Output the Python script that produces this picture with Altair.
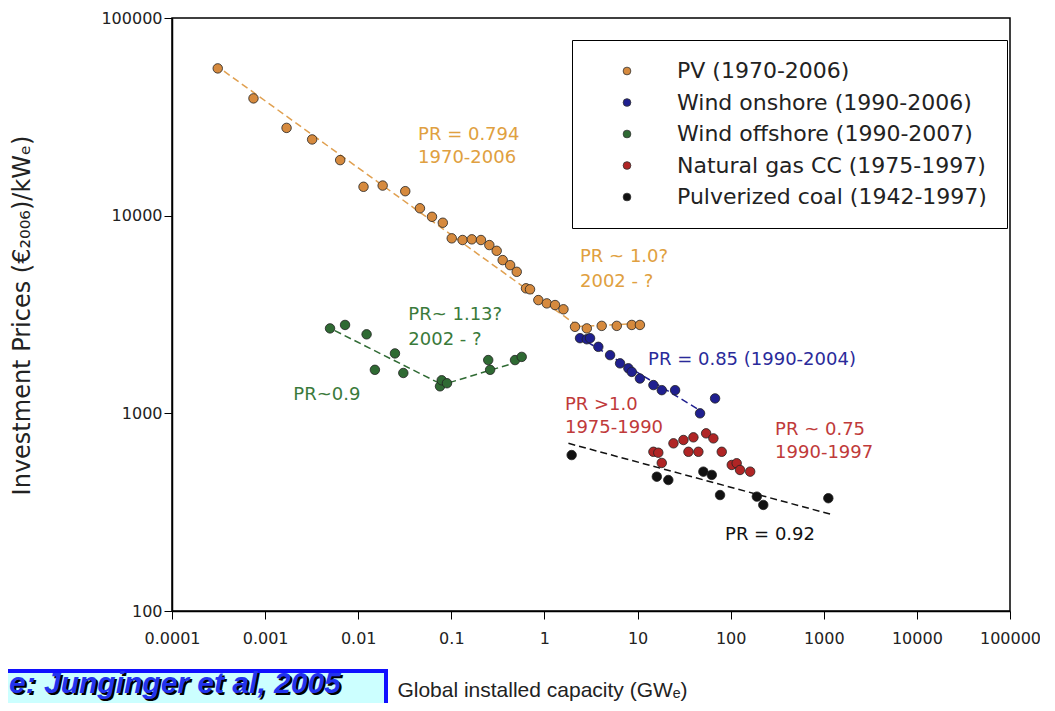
import altair as alt
import pandas as pd

SERIES = ["PV (1970-2006)", "Wind onshore (1990-2006)", "Wind offshore (1990-2007)",
          "Natural gas CC (1975-1997)", "Pulverized coal (1942-1997)"]
FILL_COLORS = ["#d68a3e", "#1f1f8f", "#2f6a33", "#b02525", "#111111"]

pv_x = [0.00031, 0.00075, 0.0017, 0.0032, 0.0064, 0.0114, 0.0183, 0.032, 0.046, 0.062,
        0.081, 0.101, 0.132, 0.166, 0.208, 0.256, 0.307, 0.356, 0.428, 0.504,
        0.634, 0.70, 0.86, 1.06, 1.30, 1.60, 2.13, 2.85, 4.12, 5.98, 8.67, 10.6]
pv_y = [55600, 39200, 27800, 24300, 19100, 14000, 14200, 13300, 10900, 9870,
        9210, 7680, 7530, 7590, 7530, 7100, 6640, 5960, 5620, 5200,
        4290, 4240, 3740, 3600, 3530, 3360, 2740, 2690, 2770, 2770, 2800, 2800]

won_x = [2.41, 2.85, 3.09, 3.79, 5.07, 6.49, 7.97, 8.67, 10.6, 14.8, 18.2, 25.3, 46.9, 68.0]
won_y = [2400, 2370, 2400, 2170, 1970, 1790, 1690, 1620, 1500, 1390, 1310, 1310, 1000, 1190]

wof_x = [0.00498, 0.00722, 0.0123, 0.0151, 0.0248, 0.0305, 0.0756, 0.0788, 0.0898,
         0.249, 0.261, 0.483, 0.570]
wof_y = [2690, 2800, 2510, 1660, 2010, 1600, 1370, 1470, 1420, 1860, 1660, 1860, 1930]

ng_x = [14.8, 16.7, 18.2, 24.3, 31.1, 39.8, 35.2, 45.0, 54.5, 65.2, 80.2, 102.8, 116, 126, 162]
ng_y = [639, 632, 561, 705, 733, 756, 639, 639, 792, 747, 639, 548, 559, 517, 507]

coal_x = [1.96, 16.1, 21.4, 50.9, 62.7, 76.9, 191, 224, 1119]
coal_y = [615, 478, 460, 507, 488, 386, 379, 344, 372]

# trend lines (endpoints)
line_id = ["pv1", "pv1", "pv2", "pv2", "won", "won", "wof1", "wof1", "wof2", "wof2", "coal", "coal"]
line_color = ["#e0a050", "#e0a050", "#e0a050", "#e0a050", "#1f1f8f", "#1f1f8f",
              "#2f6a33", "#2f6a33", "#2f6a33", "#2f6a33", "#111111", "#111111"]
line_x = [0.00029, 2.2, 2.2, 11, 2.3, 46, 0.0056, 0.079, 0.095, 0.46, 1.81, 1270]
line_y = [58000, 2800, 2750, 2850, 2450, 1040, 2620, 1400, 1430, 1790, 705, 306]

ann_text = ["PR = 0.794", "1970-2006", "PR ~ 1.0?", "2002 - ?", "PR = 0.85 (1990-2004)",
            "PR >1.0", "1975-1990", "PR ~ 0.75", "1990-1997", "PR = 0.92",
            "PR~ 1.13?", "2002 - ?", "PR~0.9"]
ann_x = [0.0439, 0.0439, 2.41, 2.41, 12.97, 1.66, 1.66, 300, 300, 87, 0.0345, 0.0345, 0.00201]
ann_y = [25600, 19600, 6200, 4630, 1860, 1101, 840, 823, 628, 242, 3140, 2350, 1238]
ann_color = ["#e0a040", "#e0a040", "#e0a040", "#e0a040", "#2a2a9a", "#c03a3a", "#c03a3a",
             "#c03a3a", "#c03a3a", "#111111", "#3a7a3a", "#3a7a3a", "#3a7a3a"]

X_TICKS = [0.0001, 0.001, 0.01, 0.1, 1, 10, 100, 1000, 10000, 100000]
Y_TICKS = [100, 1000, 10000, 100000]
X_TITLE = "Global installed capacity (GWₑ)"
Y_TITLE = "Investment Prices (€₂₀₀₆)/kWₑ)"
SOURCE_TEXT = "e: Junginger et al, 2005"

rows = []
for s, xs_, ys_ in zip(SERIES, [pv_x, won_x, wof_x, ng_x, coal_x], [pv_y, won_y, wof_y, ng_y, coal_y]):
    for a, b in zip(xs_, ys_):
        rows.append({"series": s, "x": a, "y": b})
pts = pd.DataFrame(rows)
lines_df = pd.DataFrame({"id": line_id, "lc": line_color, "x": line_x, "y": line_y})
ann_df = pd.DataFrame({"text": ann_text, "x": ann_x, "y": ann_y, "color": ann_color})
src_df = pd.DataFrame({"t": [SOURCE_TEXT]})

xscale = alt.Scale(type="log", domain=[1e-4, 1e5], nice=False)
yscale = alt.Scale(type="log", domain=[100, 100000], nice=False)

xaxis = alt.Axis(values=X_TICKS, format="~g", grid=False, labelFont="DejaVu Sans", labelFontSize=16,
                 labelColor="#222", labelFlush=False, labelOverlap=False, labelPadding=11,
                 tickSize=8, tickColor="black", domainColor="black", domainWidth=1.5,
                 title=X_TITLE, titleFont="Liberation Sans", titleFontSize=21, titleFontWeight="normal",
                 titleColor="#222", titleX=370, titleY=79, titleAlign="center", titleBaseline="middle")
yaxis = alt.Axis(values=Y_TICKS, format="d", grid=False, labelFont="DejaVu Sans", labelFontSize=16,
                 labelColor="#222", labelFlush=False, labelPadding=2,
                 tickSize=8, tickColor="black", domainColor="black", domainWidth=1.5,
                 title=Y_TITLE, titleFont="DejaVu Sans", titleFontSize=24, titleFontWeight="normal",
                 titleColor="#222", titleX=-150, titleY=297, titleAngle=270,
                 titleAlign="center", titleBaseline="middle")

X = alt.X("x:Q", scale=xscale, axis=xaxis)
Y = alt.Y("y:Q", scale=yscale, axis=yaxis)

box = alt.Chart(src_df).mark_rect(fill="#ccffff", stroke="#1010ff", strokeWidth=4).encode(
    x=alt.value(-180), x2=alt.value(214), y=alt.value(653), y2=alt.value(700))
shadow = alt.Chart(src_df).mark_text(align="left", baseline="middle", font="Liberation Sans",
                                     fontStyle="italic", fontWeight="bold", fontSize=30,
                                     color="#000000").encode(
    x=alt.value(-161), y=alt.value(668), text="t:N")
srctext = alt.Chart(src_df).mark_text(align="left", baseline="middle", font="Liberation Sans",
                                      fontStyle="italic", fontWeight="bold", fontSize=30,
                                      color="#2233ee").encode(
    x=alt.value(-163), y=alt.value(666), text="t:N")

lines = alt.Chart(lines_df).mark_line(strokeDash=[7, 4], strokeWidth=1.5).encode(
    x=X, y=Y, detail="id:N", stroke=alt.Stroke("lc:N", scale=None))

points = alt.Chart(pts).mark_circle(size=90, opacity=1, stroke="#222", strokeWidth=0.8).encode(
    x=X, y=Y,
    fill=alt.Fill("series:N", scale=alt.Scale(domain=SERIES, range=FILL_COLORS),
                  legend=alt.Legend(title=None, orient="none", legendX=400, legendY=22,
                                    strokeColor="black", fillColor="white", padding=20,
                                    labelFont="DejaVu Sans", labelFontSize=22, labelColor="#222",
                                    labelLimit=500, symbolType="circle", symbolSize=60,
                                    symbolStrokeColor="#333", symbolStrokeWidth=0.8,
                                    symbolOffset=24, labelOffset=39, rowPadding=9.5)))

ann = alt.Chart(ann_df).mark_text(align="left", baseline="middle", font="DejaVu Sans",
                                  fontSize=18).encode(
    x=X, y=Y, text="text:N", color=alt.Color("color:N", scale=None))

chart = alt.layer(box, shadow, srctext, lines, points, ann).properties(
    width=838, height=593,
    padding={"left": 164, "top": 10, "right": 30, "bottom": 92},
    autosize=alt.AutoSizeParams(type="none"),
    background="white",
).configure_view(stroke="black", strokeWidth=1.5)

chart.save("out.html", embed_options={"renderer": "svg", "actions": False})
